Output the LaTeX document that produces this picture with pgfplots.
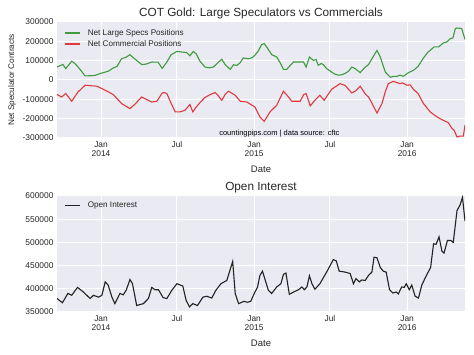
\documentclass[border=0pt]{standalone}
\usepackage{pgfplots}
\pgfplotsset{compat=1.18}
\usepackage{fontspec}
\setmainfont{Liberation Sans}
\definecolor{sbbg}{HTML}{EAEAF2}
\definecolor{sbtext}{HTML}{262626}
\definecolor{specgreen}{HTML}{409A40}
\definecolor{commred}{HTML}{E03A3E}
\definecolor{oiline}{HTML}{222222}

\tikzset{legtext/.style={anchor=west, inner sep=0pt, font=\fontsize{8.15}{10}\selectfont, text=sbtext}}
\pgfplotsset{
 every axis title shift=0pt,
 sbstyle/.style={
   width=408pt, height=116pt, scale only axis,
   axis background/.style={fill=sbbg},
   axis line style={draw=none},
   major tick length=0pt,
   grid=major,
   major grid style={white, line width=1pt},
   xmin=-105, xmax=868,
   xtick={0,181,365,546,730},
   xticklabels={Jan\\2014, Jul, Jan\\2015, Jul, Jan\\2016},
   xticklabel style={align=center, font=\fontsize{8.4}{9.6}\selectfont, text=sbtext},
   yticklabel style={font=\fontsize{8.4}{10}\selectfont, text=sbtext},
   /pgf/number format/assume math mode=true,
   /pgf/number format/fixed,
   /pgf/number format/1000 sep={},
   scaled y ticks=false,
   title style={at={(0.5,1)}, anchor=base, yshift=5pt, font=\fontsize{11.8}{14}\selectfont, text=sbtext},
   xlabel={Date},
   xlabel style={font=\fontsize{9.5}{11}\selectfont, text=sbtext, yshift=-2.5pt},
 },
}

\begin{document}
\begin{tikzpicture}[x=1pt,y=1pt]
\useasboundingbox (0,0) rectangle (474,355);
\begin{axis}[sbstyle, at={(57pt,217pt)}, anchor=south west,
  title={COT Gold: Large Speculators vs Commercials},
  ylabel={Net Speculator Contracts},
  ylabel style={font=\fontsize{8.2}{10}\selectfont, text=sbtext},
  ymin=-300000, ymax=300000,
  ytick={-300000,-200000,-100000,0,100000,200000,300000}]
\addplot[color=specgreen, line width=1.1pt] table {
x y
-105 67000
-91 80000
-84 59000
-70 97000
-62 85000
-50 55000
-38 21000
-26 22000
-14 24000
0 35000
17 45000
29 62000
38 70000
49 110000
60 118000
69 131000
81 108000
97 80000
107 82000
121 93000
136 92000
146 60000
157 93000
167 130000
181 148000
191 145000
204 142000
212 125000
220 148000
227 135000
236 97000
248 67000
258 63000
268 67000
279 90000
288 107000
296 80000
308 55000
316 79000
324 75000
332 90000
339 114000
351 110000
360 115000
367 128000
375 150000
383 183000
389 188000
395 171000
407 131000
419 119000
427 90000
435 55000
443 55000
451 75000
459 93000
470 93000
483 93000
489 67000
497 119000
506 102000
513 105000
518 76000
525 85000
530 80000
538 59000
550 41000
558 30000
566 25000
574 27000
582 34000
590 45000
598 67000
606 59000
618 38000
630 67000
638 80000
646 110000
658 153000
666 119000
678 41000
690 14000
697 19000
705 19000
713 25000
721 19000
733 38000
745 50000
756 70000
769 114000
780 145000
785 153000
794 171000
805 171000
816 191000
825 197000
833 214000
839 217000
845 266000
849 269000
860 266000
868 210000
};
\addplot[color=commred, line width=1.1pt] table {
x y
-105 -75000
-94 -88000
-84 -70000
-70 -110000
-55 -62000
-38 -27000
-22 -30000
-10 -32000
10 -53000
29 -75000
49 -122000
69 -148000
81 -125000
97 -88000
121 -114000
133 -110000
146 -67000
151 -65000
157 -70000
167 -120000
177 -165000
188 -165000
200 -157000
212 -127000
219 -165000
227 -140000
236 -117000
248 -90000
260 -76000
272 -65000
279 -80000
288 -105000
296 -75000
304 -58000
320 -79000
332 -110000
348 -114000
367 -140000
379 -191000
389 -214000
403 -165000
419 -131000
435 -58000
444 -80000
455 -110000
475 -110000
483 -76000
489 -70000
499 -134000
510 -105000
522 -79000
532 -105000
550 -48000
570 -19000
582 -28000
598 -67000
608 -55000
618 -32000
630 -72000
638 -88000
646 -120000
658 -171000
670 -122000
678 -60000
685 -19000
697 -7000
713 -19000
719 -15000
729 -27000
737 -25000
745 -48000
756 -70000
769 -122000
785 -165000
794 -180000
805 -196000
821 -214000
828 -220000
837 -251000
842 -260000
849 -295000
856 -290000
864 -290000
868 -234000
};
\draw[specgreen, line width=1.1pt] (rel axis cs:0.0196,0.905) -- (rel axis cs:0.0564,0.905);
\node[legtext] at (rel axis cs:0.075,0.905) {Net Large Specs Positions};
\draw[commred, line width=1.1pt] (rel axis cs:0.0196,0.81) -- (rel axis cs:0.0564,0.81);
\node[legtext] at (rel axis cs:0.075,0.81) {Net Commercial Positions};
\node[font=\fontsize{7.5}{9}\selectfont, text=black] at (rel axis cs:0.545,0.04) {countingpips.com | data source: cftc};
\end{axis}

\begin{axis}[sbstyle, at={(57pt,43pt)}, anchor=south west,
  title={Open Interest},
  ymin=350000, ymax=600000,
  ytick={350000,400000,450000,500000,550000,600000}]
\addplot[color=oiline, line width=1.1pt] table {
x y
-105 379000
-92 370000
-79 390000
-70 386000
-56 403000
-42 393000
-26 379000
-18 386000
-6 382000
2 386000
10 415000
17 408000
26 382000
33 368000
45 390000
53 387000
60 397000
69 420000
75 411000
85 364000
101 368000
113 379000
121 403000
129 398000
137 398000
148 381000
157 379000
169 397000
181 411000
195 406000
203 375000
211 361000
219 368000
230 364000
243 382000
252 384000
264 380000
274 397000
286 411000
300 418000
314 459000
320 390000
328 368000
341 373000
349 371000
357 373000
367 393000
373 403000
379 429000
385 438000
399 397000
407 390000
419 404000
429 411000
435 431000
441 434000
449 388000
459 393000
471 398000
479 404000
485 398000
491 404000
497 428000
503 411000
510 399000
522 411000
538 436000
554 463000
561 460000
568 438000
582 436000
594 433000
602 411000
608 422000
616 415000
622 419000
630 418000
638 429000
646 436000
651 468000
658 467000
666 446000
673 438000
680 436000
688 398000
696 391000
704 393000
709 389000
717 404000
723 403000
728 411000
735 398000
741 408000
749 384000
757 380000
765 408000
775 427000
786 446000
793 497000
799 496000
806 512000
813 481000
818 477000
826 504000
834 504000
840 500000
849 569000
856 580000
862 597000
868 546000
};
\draw[oiline, line width=1.1pt] (rel axis cs:0.0196,0.916) -- (rel axis cs:0.0564,0.916);
\node[legtext] at (rel axis cs:0.075,0.916) {Open Interest};
\end{axis}
\end{tikzpicture}
\end{document}
